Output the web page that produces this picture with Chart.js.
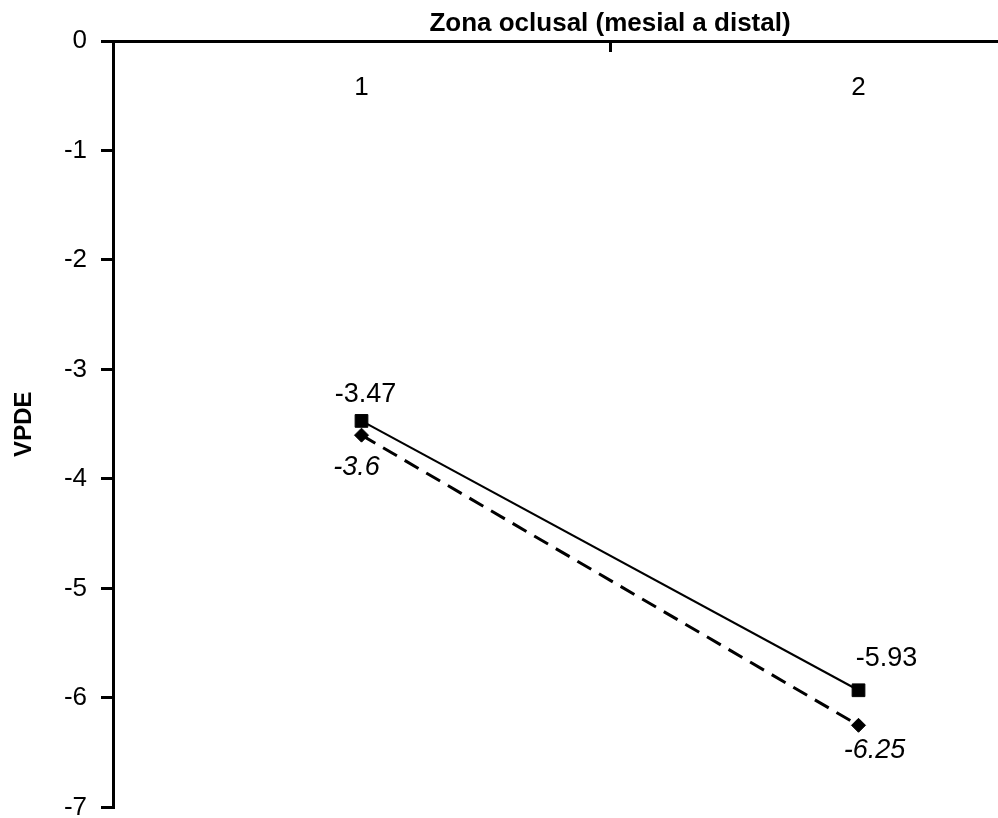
<!DOCTYPE html>
<html>
<head>
<meta charset="utf-8">
<script src="https://cdn.jsdelivr.net/npm/chart.js@4.4.1/dist/chart.umd.min.js"></script>
<style>
    html, body { margin: 0; padding: 0; background: #fff; overflow: hidden; }
    /* the reference is a crop of a wider chart, so the canvas runs past the window */
    #chart { display: block; }
</style>
</head>
<body>
<canvas id="chart" width="1117" height="837"></canvas>
<script>
const categories = ['1', '2'];
const seriesSolid = [-3.47, -5.93];
const seriesDashed = [-3.6, -6.25];
const yTicks = [0, -1, -2, -3, -4, -5, -6, -7];

const FONT = "'Liberation Sans', Arial, sans-serif";

// draws the value next to each point
const pointLabels = {
    id: 'pointLabels',
    afterDatasetsDraw(chart, args, opts) {
        const ctx = chart.ctx;
        ctx.save();
        ctx.fillStyle = '#000';
        ctx.textAlign = 'center';
        ctx.textBaseline = 'middle';
        chart.data.datasets.forEach(function (ds, i) {
            const meta = chart.getDatasetMeta(i);
            ctx.font = (opts.italic[i] ? 'italic ' : '') + '27px ' + FONT;
            meta.data.forEach(function (pt, j) {
                const off = opts.offsets[i][j];
                ctx.fillText(String(ds.data[j]), pt.x + off[0], pt.y + off[1]);
            });
        });
        ctx.restore();
    }
};

const ctx = document.getElementById('chart').getContext('2d');
const myChart = new Chart(ctx, {
    type: 'line',
    data: {
        labels: categories,
        datasets: [{
            data: seriesSolid,
            borderColor: '#000',
            borderWidth: 2,
            backgroundColor: '#000',
            pointStyle: 'rect',
            pointRadius: 9,
            pointBorderWidth: 1,
            tension: 0
        }, {
            data: seriesDashed,
            borderColor: '#000',
            borderWidth: 3,
            borderDash: [16, 9],
            backgroundColor: '#000',
            pointStyle: 'rectRot',
            pointRadius: 7,
            pointBorderWidth: 1,
            tension: 0
        }]
    },
    options: {
        responsive: false,
        animation: false,
        layout: { padding: { left: 0, right: 4, top: 0, bottom: 23 } },
        scales: {
            x: {
                type: 'category',
                position: 'top',
                offset: true,
                grid: {
                    offset: true,
                    drawOnChartArea: false,
                    drawTicks: true,
                    tickLength: -11,
                    color: '#000',
                    lineWidth: 3
                },
                border: { display: true, color: '#000', width: 3 },
                ticks: {
                    mirror: true,
                    padding: 31,
                    color: '#000',
                    font: { family: FONT, size: 26 }
                },
                title: {
                    display: true,
                    text: 'Zona oclusal (mesial a distal)',
                    color: '#000',
                    font: { family: FONT, size: 26, weight: 'bold' },
                    padding: { top: 8, bottom: 0 }
                },
                afterFit: function (scale) { scale.height = 41; }
            },
            y: {
                min: Math.min(...yTicks),
                max: Math.max(...yTicks),
                afterBuildTicks: function (scale) {
                    scale.ticks = yTicks.map(v => ({ value: v }));
                },
                grid: {
                    drawOnChartArea: false,
                    drawTicks: true,
                    tickLength: 12,
                    color: '#000',
                    lineWidth: 3
                },
                border: { display: true, color: '#000', width: 3 },
                ticks: {
                    padding: 14,
                    color: '#000',
                    font: { family: FONT, size: 26 }
                },
                title: {
                    display: true,
                    text: 'VPDE',
                    color: '#000',
                    font: { family: FONT, size: 24, weight: 'bold' },
                    padding: { top: 10, bottom: 0 }
                },
                afterFit: function (scale) { scale.width = 113; }
            }
        },
        plugins: {
            legend: { display: false },
            tooltip: { enabled: false },
            pointLabels: {
                italic: [false, true],
                offsets: [[[4, -26], [28, -32]], [[-5, 32], [16, 25]]]
            }
        }
    },
    plugins: [pointLabels]
});
</script>
</body>
</html>
